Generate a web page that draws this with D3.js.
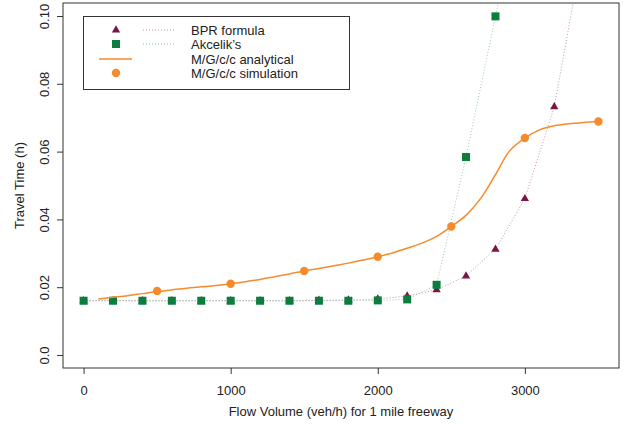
<!DOCTYPE html>
<html>
<head>
<meta charset="utf-8">
<script src="https://cdn.jsdelivr.net/npm/d3@7"></script>
<style>
  body { margin: 0; background: #fff; }
  svg text { font-family: "Liberation Sans", Arial, sans-serif; fill: #222; }
</style>
</head>
<body>
<svg width="626" height="432"></svg>
<script>
// data
const bprFlow = [0, 200, 400, 600, 800, 1000, 1200, 1400, 1600, 1800, 2000, 2200, 2400, 2600, 2800, 3000, 3200, 3400];
const bprTime = [0.016, 0.016, 0.016, 0.016, 0.016, 0.016, 0.016, 0.0160, 0.0161, 0.0162, 0.0165, 0.0174, 0.0192, 0.0233, 0.0312, 0.0461, 0.0732, 0.1209];

const akFlow = [0, 200, 400, 600, 800, 1000, 1200, 1400, 1600, 1800, 2000, 2200, 2400, 2600, 2800, 3000];
const akTime = [0.016, 0.016, 0.016, 0.016, 0.016, 0.016, 0.016, 0.016, 0.016, 0.016, 0.0161, 0.0164, 0.0207, 0.0584, 0.0999, 0.142];

const anaFlow = [100, 200, 300, 400, 500, 600, 700, 800, 900, 1000, 1100, 1200, 1300, 1400, 1500, 1600, 1700, 1800,
  1900, 2000, 2100, 2200, 2300, 2400, 2500, 2600, 2700, 2800, 2900, 3000, 3100, 3200, 3300, 3400, 3500];
const anaTime = [0.0165, 0.0170, 0.0175, 0.0181, 0.0187, 0.0192, 0.0197, 0.0201, 0.0205, 0.0210, 0.0216, 0.0223,
  0.0231, 0.0239, 0.0248, 0.0255, 0.0263, 0.0271, 0.0280, 0.0290, 0.0301, 0.0315, 0.0330, 0.0350, 0.0379, 0.0412,
  0.0462, 0.0532, 0.0604, 0.0640, 0.0664, 0.0676, 0.0682, 0.0686, 0.0689];

const simFlow = [500, 1000, 1500, 2000, 2500, 3000, 3500];
const simTime = [0.0189, 0.0210, 0.0248, 0.0290, 0.0379, 0.0640, 0.0689];

const xTicks = [0, 1000, 2000, 3000];
const yTicks = [0, 0.02, 0.04, 0.06, 0.08, 0.10];
const legendLabels = ['BPR formula', 'Akcelik\u2019s', 'M/G/c/c analytical', 'M/G/c/c simulation'];

const maroon = '#7b1447';
const green = '#0b7e3e';
const orange = '#f78a2b';

const plotLeft = 63, plotRight = 619, plotTop = 3, plotBottom = 368;

const svg = d3.select('svg');

const xScale = d3.scaleLinear().domain([-140, 3640]).range([plotLeft, plotRight]);
const yScale = d3.scaleLinear().domain([-0.00384, 0.10384]).range([plotBottom, plotTop]);

svg.append('clipPath').attr('id', 'plotClip')
  .append('rect')
    .attr('x', plotLeft).attr('y', plotTop)
    .attr('width', plotRight - plotLeft).attr('height', plotBottom - plotTop);

const plot = svg.append('g').attr('clip-path', 'url(#plotClip)');

const pair = (xs, ys) => xs.map((x, i) => [x, ys[i]]);
const line = d3.line().x(d => xScale(d[0])).y(d => yScale(d[1]));

// dotted lines
plot.append('path')
    .attr('d', line(pair(bprFlow, bprTime)))
    .attr('fill', 'none')
    .attr('stroke', maroon)
    .attr('stroke-opacity', 0.45)
    .attr('stroke-width', 1)
    .attr('stroke-dasharray', '1,2');
plot.append('path')
    .attr('d', line(pair(akFlow, akTime)))
    .attr('fill', 'none')
    .attr('stroke', green)
    .attr('stroke-opacity', 0.4)
    .attr('stroke-width', 1)
    .attr('stroke-dasharray', '1,2');

// triangles then squares
const tri = d3.symbol().type(d3.symbolTriangle).size(30);
plot.selectAll('.tri')
  .data(pair(bprFlow, bprTime))
  .join('path')
    .attr('class', 'tri')
    .attr('d', tri)
    .attr('transform', d => `translate(${xScale(d[0])},${yScale(d[1])})`)
    .attr('fill', maroon);

plot.selectAll('.sq')
  .data(pair(akFlow, akTime))
  .join('rect')
    .attr('class', 'sq')
    .attr('x', d => xScale(d[0]) - 4)
    .attr('y', d => yScale(d[1]) - 4)
    .attr('width', 8)
    .attr('height', 8)
    .attr('fill', green);

// analytical curve
plot.append('path')
    .attr('d', line.curve(d3.curveCatmullRom)(pair(anaFlow, anaTime)))
    .attr('fill', 'none')
    .attr('stroke', orange)
    .attr('stroke-width', 1.5);

plot.selectAll('.sim')
  .data(pair(simFlow, simTime))
  .join('circle')
    .attr('class', 'sim')
    .attr('cx', d => xScale(d[0]))
    .attr('cy', d => yScale(d[1]))
    .attr('r', 4.2)
    .attr('fill', orange);

// box
svg.append('rect')
    .attr('x', plotLeft).attr('y', plotTop)
    .attr('width', plotRight - plotLeft).attr('height', plotBottom - plotTop)
    .attr('fill', 'none')
    .attr('stroke', '#333')
    .attr('stroke-width', 1);

// axes
const xAxis = d3.axisBottom(xScale).tickValues(xTicks).tickSize(6).tickPadding(12)
    .tickFormat(d3.format('d'));
svg.append('g')
    .attr('transform', `translate(0, ${plotBottom})`)
    .call(xAxis)
    .call(g => g.select('.domain').remove())
    .call(g => g.selectAll('line').attr('stroke', '#333'))
    .call(g => g.selectAll('text').attr('font-size', 13).attr('font-family', null));

const yAxis = d3.axisLeft(yScale).tickValues(yTicks).tickSize(6)
    .tickFormat(d => d === 0 ? '0.0' : d3.format('.2f')(d));
const yG = svg.append('g')
    .attr('transform', `translate(${plotLeft}, 0)`)
    .call(yAxis)
    .call(g => g.select('.domain').remove())
    .call(g => g.selectAll('line').attr('stroke', '#333'));
yG.selectAll('text')
    .attr('font-size', 13)
    .attr('font-family', null)
    .attr('text-anchor', 'middle')
    .attr('x', null)
    .attr('dy', null)
    .attr('transform', 'translate(-17, 0) rotate(-90)')
    .attr('dominant-baseline', 'middle');

// axis titles
svg.append('text')
    .attr('x', (plotLeft + plotRight) / 2)
    .attr('y', 416)
    .attr('text-anchor', 'middle')
    .attr('font-size', 13)
    .text('Flow Volume (veh/h) for 1 mile freeway');
svg.append('text')
    .attr('transform', `translate(24, ${(plotTop + plotBottom) / 2}) rotate(-90)`)
    .attr('text-anchor', 'middle')
    .attr('font-size', 13)
    .text('Travel Time (h)');

// legend
const legend = svg.append('g');
legend.append('rect')
    .attr('x', 83.5).attr('y', 16.5)
    .attr('width', 266).attr('height', 73)
    .attr('fill', '#fff')
    .attr('stroke', '#333');
const rowY = [30, 44, 59, 73];
legend.selectAll('.lab')
  .data(legendLabels)
  .join('text')
    .attr('class', 'lab')
    .attr('x', 191)
    .attr('y', (d, i) => rowY[i] + 5)
    .attr('font-size', 13)
    .text(d => d);
legend.append('path')
    .attr('d', tri())
    .attr('transform', `translate(116, ${rowY[0]})`)
    .attr('fill', maroon);
legend.append('rect')
    .attr('x', 112).attr('y', rowY[1] - 4)
    .attr('width', 8).attr('height', 8)
    .attr('fill', green);
legend.append('circle')
    .attr('cx', 116).attr('cy', rowY[3])
    .attr('r', 4.2)
    .attr('fill', orange);
legend.append('line')
    .attr('x1', 143).attr('x2', 176)
    .attr('y1', rowY[0]).attr('y2', rowY[0])
    .attr('stroke', maroon).attr('stroke-opacity', 0.45)
    .attr('stroke-dasharray', '1,2');
legend.append('line')
    .attr('x1', 143).attr('x2', 176)
    .attr('y1', rowY[1]).attr('y2', rowY[1])
    .attr('stroke', green).attr('stroke-opacity', 0.5)
    .attr('stroke-dasharray', '1,2');
legend.append('line')
    .attr('x1', 99).attr('x2', 132)
    .attr('y1', rowY[2]).attr('y2', rowY[2])
    .attr('stroke', orange)
    .attr('stroke-width', 1.5);
</script>
</body>
</html>
